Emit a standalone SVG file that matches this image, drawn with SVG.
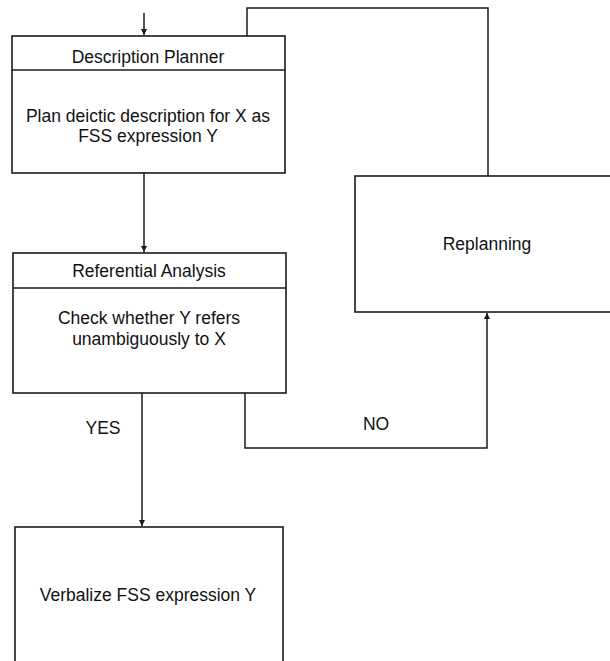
<svg xmlns="http://www.w3.org/2000/svg" width="610" height="661" viewBox="0 0 610 661">
<style>
.box{fill:none;stroke:#1a1a1a;stroke-width:1.6}
.ln{fill:none;stroke:#1a1a1a;stroke-width:1.5}
text{font-family:"Liberation Sans",Arial,sans-serif;font-size:17.5px;fill:#111;text-anchor:middle}
</style>
<defs>
<marker id="ah" viewBox="0 0 6 8" refX="6" refY="4" markerWidth="6" markerHeight="8" markerUnits="userSpaceOnUse" orient="auto">
<path d="M0,1 L6,4 L0,7 Z" fill="#1a1a1a"/>
</marker>
</defs>
<rect width="610" height="661" fill="#fff"/>
<g id="connectors">
<line class="ln" x1="144" y1="13" x2="144" y2="35" marker-end="url(#ah)"/>
<polyline class="ln" points="247,36 247,8 488,8 488,176"/>
<line class="ln" x1="144" y1="173" x2="144" y2="252" marker-end="url(#ah)"/>
<line class="ln" x1="142" y1="393" x2="142" y2="526" marker-end="url(#ah)"/>
<polyline class="ln" points="245,393 245,448 487,448 487,313" marker-end="url(#ah)"/>
<text x="103" y="434">YES</text>
<text x="376" y="430">NO</text>
</g>
<g id="description-planner">
<rect class="box" x="12" y="36" width="273" height="137"/>
<line class="box" x1="12" y1="70" x2="285" y2="70"/>
<text x="148" y="63">Description Planner</text>
<text x="148" y="122">Plan deictic description for X as</text>
<text x="148" y="142">FSS expression Y</text>
</g>
<g id="referential-analysis">
<rect class="box" x="13" y="253" width="273" height="140"/>
<line class="box" x1="13" y1="288" x2="286" y2="288"/>
<text x="149" y="277">Referential Analysis</text>
<text x="149" y="324">Check whether Y refers</text>
<text x="149" y="345">unambiguously to X</text>
</g>
<g id="replanning">
<rect class="box" x="355" y="176" width="270" height="136"/>
<text x="487" y="250">Replanning</text>
</g>
<g id="verbalize">
<rect class="box" x="15" y="527" width="268" height="150"/>
<text x="148" y="601">Verbalize FSS expression Y</text>
</g>
</svg>
